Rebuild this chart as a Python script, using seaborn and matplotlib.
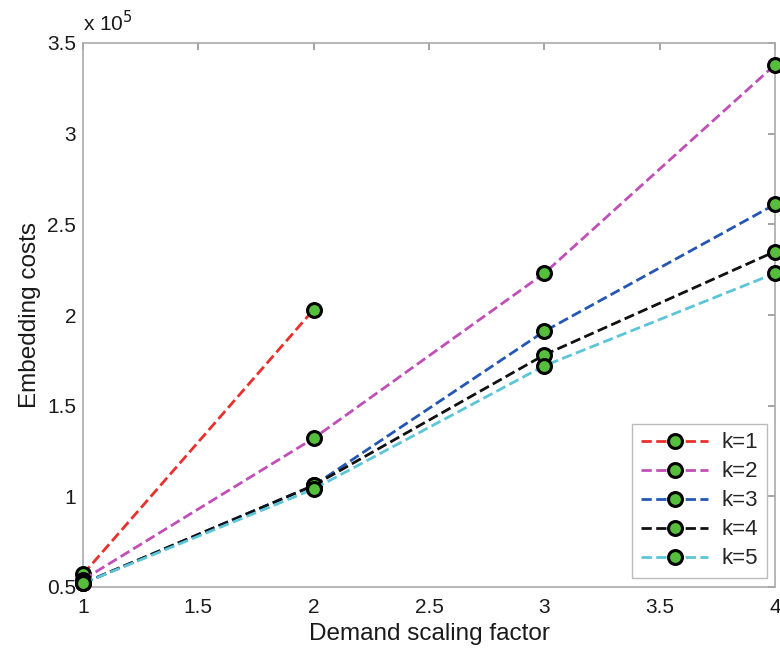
import numpy as np
import pandas as pd
import matplotlib
matplotlib.use("Agg")
import matplotlib.pyplot as plt
import seaborn as sns

# ── Données (en unités de 1e5) ────────────────────────────────
demand  = [1, 2, 3, 4]
k1_cost = [0.57, 2.03]
k2_cost = [0.54, 1.32, 2.23, 3.38]
k3_cost = [0.52, 1.06, 1.91, 2.61]
k4_cost = [0.52, 1.06, 1.78, 2.35]
k5_cost = [0.52, 1.04, 1.72, 2.23]
labels  = ["k=1", "k=2", "k=3", "k=4", "k=5"]
colors  = ["#e8312d", "#c04fb8", "#2457b4", "#111111", "#5cc6d8"]

series = [k1_cost, k2_cost, k3_cost, k4_cost, k5_cost]
rows = []
for lab, vals in zip(labels, series):
    for x, y in zip(demand, vals):
        rows.append({"demand": x, "cost": y, "k": lab})
df = pd.DataFrame(rows)

sns.set_theme(style="white")
plt.rcParams["font.family"] = ["Liberation Sans", "DejaVu Sans"]

fig, ax = plt.subplots(figsize=(7.8, 6.5), dpi=100)
fig.subplots_adjust(left=83 / 780, right=775 / 780,
                    bottom=1 - 587 / 650, top=1 - 43 / 650)

sns.lineplot(data=df, x="demand", y="cost", hue="k", hue_order=labels,
             palette=colors, ax=ax, legend=False, sort=False,
             linestyle="--", linewidth=2.0, marker="o", markersize=10,
             markerfacecolor="#55bf3b", markeredgecolor="black",
             markeredgewidth=2.2, clip_on=False, zorder=3)

ax.set_xlim(1, 4)
ax.set_ylim(0.5, 3.5)
ax.set_xticks([1, 1.5, 2, 2.5, 3, 3.5, 4])
ax.set_yticks([0.5, 1, 1.5, 2, 2.5, 3, 3.5])
ax.set_xticklabels(["1", "1.5", "2", "2.5", "3", "3.5", "4"])
ax.set_yticklabels(["0.5", "1", "1.5", "2", "2.5", "3", "3.5"])
ax.tick_params(direction="in", top=True, right=True, length=5,
               color="#999999", labelsize=15, labelcolor="#1a1a1a", pad=5)
ax.tick_params(axis="x", pad=8)
for sp in ax.spines.values():
    sp.set_color("#aaaaaa")
    sp.set_linewidth(1.2)

ax.set_xlabel("Demand scaling factor", fontsize=17.5, color="#1a1a1a", labelpad=4)
ax.set_ylabel("Embedding costs", fontsize=17.5, color="#1a1a1a", labelpad=4)
ax.text(0.0, 1.015, "x 10$^5$", transform=ax.transAxes, fontsize=15,
        color="#1a1a1a", ha="left", va="bottom")

leg = ax.legend(handles=ax.lines, labels=labels, loc="lower right",
                fontsize=16, frameon=True, fancybox=False,
                handlelength=3.0, handletextpad=0.6, borderpad=0.4,
                labelspacing=0.36, borderaxespad=0,
                bbox_to_anchor=(0.988, 0.016))
leg.get_frame().set_edgecolor("#aaaaaa")
leg.get_frame().set_linewidth(1.0)

fig.savefig("out.png", dpi=100)
plt.close(fig)
